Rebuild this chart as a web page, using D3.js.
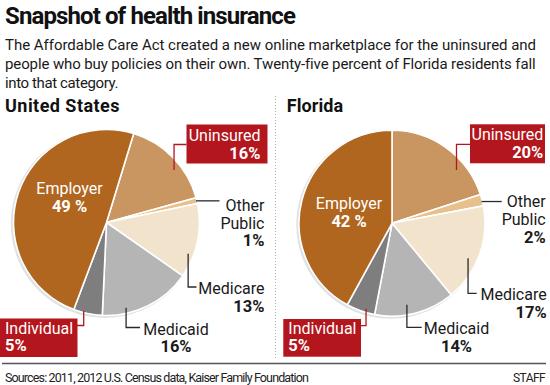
<!DOCTYPE html>
<html><head><meta charset="utf-8">
<script src="https://cdn.jsdelivr.net/npm/d3@7"></script>
<style>
body{margin:0;background:#fff}
svg{display:block}
text{font-family:Roboto,"Liberation Sans",sans-serif}
</style>
</head><body>
<svg id="c" width="550" height="385"></svg>
<script>
// ---- data ----
const categories = ["Uninsured", "Other Public", "Medicare", "Medicaid", "Individual", "Employer"];
const usValues = [16, 1, 13, 16, 5, 49];
const flValues = [20, 2, 17, 14, 5, 42];
const usPercentLabels = ["16%", "1%", "13%", "16%", "5%", "49 %"];
const flPercentLabels = ["20%", "2%", "17%", "14%", "5%", "42 %"];
const nameLines = [["Uninsured"], ["Other", "Public"], ["Medicare"], ["Medicaid"], ["Individual"], ["Employer"]];
const panelTitles = ["United States", "Florida"];
const titleText = "Snapshot of health insurance";
const subtitleLines = [
  "The Affordable Care Act created a new online marketplace for the uninsured and",
  "people who buy policies on their own. Twenty-five percent of Florida residents fall",
  "into that category."
];
const sourceText = "Sources: 2011, 2012 U.S. Census data, Kaiser Family Foundation";
const creditText = "STAFF";

// ---- styles ----
const colors = {
  "Uninsured": "#c99662",
  "Other Public": "#e8c08c",
  "Medicare": "#f2e4cc",
  "Medicaid": "#b5b5b5",
  "Individual": "#7e7e7e",
  "Employer": "#b0661f"
};
const RED = "#b3161c";

const svg = d3.select("#c");

// fit a text to a target width by adjusting letter spacing
function fitText(sel, w) {
  const nat = sel.node().getComputedTextLength();
  const n = sel.text().length;
  sel.attr("letter-spacing", ((w - nat) / n).toFixed(3));
  return sel;
}

// title & subtitle
fitText(svg.append("text").attr("x", 5).attr("y", 23.5).attr("font-size", 24)
  .attr("font-weight", 700).attr("fill", "#111").text(titleText), 290);
const subW = [531, 530, 113];
subtitleLines.forEach((t, i) => {
  fitText(svg.append("text").attr("x", 5).attr("y", 50 + i * 19).attr("font-size", 15)
    .attr("fill", "#1a1a1a").text(t), subW[i]);
});

// divider and footer
svg.append("line").attr("x1", 275.5).attr("x2", 275.5).attr("y1", 96).attr("y2", 360)
  .attr("stroke", "#b0b0b0").attr("stroke-width", 1).attr("stroke-dasharray", "1,2");
svg.append("line").attr("x1", 2).attr("x2", 546).attr("y1", 363.5).attr("y2", 363.5)
  .attr("stroke", "#555").attr("stroke-width", 1.5);
fitText(svg.append("text").attr("x", 5).attr("y", 381.5).attr("font-size", 12.5)
  .attr("fill", "#222").text(sourceText), 303);
fitText(svg.append("text").attr("x", 513).attr("y", 381.5).attr("font-size", 12)
  .attr("fill", "#222").text(creditText), 32);

// ---- layouts ----
const deg = Math.PI / 180;
const panels = [
  {
    title: panelTitles[0], titleX: 5, titleW: 115, values: usValues, pct: usPercentLabels,
    cx: 106.5, cy: 222.5, r: 93, start: 17 * deg,
    labels: [
      {t: .61, k: .92, kind: "elbow", ey: -78, ex: 80, box: [80, -98, 81, 39], anchor: "end", tx: 154, ys: [-82, -64], red: true},
      {t: .5, k: .99, kind: "flat", ex: 113, anchor: "end", tx: 158, ys: [-12, 6, 23.7]},
      {t: .70, k: .94, kind: "elbow", ey: 64.5, ex: 90, anchor: "end", tx: 158, ys: [71, 89.5]},
      {t: .73, k: .94, kind: "elbow", ey: 105, ex: 33.5, anchor: "middle", tx: 69.5, ys: [112, 129.5]},
      {t: .66, k: .98, kind: "elbow", ey: 103, ex: -29.5, box: [-106.5, 96, 77.5, 38.5], anchor: "start", tx: -101.5, ys: [111, 128.5], red: true},
      {kind: "inside", anchor: "middle", tx: -37, ys: [-28.5, -10.5]}
    ]
  },
  {
    title: panelTitles[1], titleX: 286.7, titleW: 56.5, values: flValues, pct: flPercentLabels,
    cx: 392, cy: 223.3, r: 93, start: 0,
    labels: [
      {t: .70, k: .90, kind: "elbow", ey: -79, ex: 78, box: [78, -99, 75, 39], anchor: "end", tx: 151.3, ys: [-83.3, -65.3], red: true},
      {t: .6, k: .99, kind: "flat", ex: 109.7, anchor: "end", tx: 153.7, ys: [-16, 1.7, 20]},
      {t: .58, k: .90, kind: "elbow", ey: 70, ex: 84.7, anchor: "end", tx: 154.7, ys: [76.7, 94.4]},
      {t: .58, k: .89, kind: "elbow", ey: 104, ex: 29.7, anchor: "middle", tx: 64.5, ys: [111, 128.4]},
      {t: .34, k: .96, kind: "elbow", ey: 102.4, ex: -31, box: [-108.7, 95.7, 77.7, 37.7], anchor: "start", tx: -103.7, ys: [110.7, 128.2], red: true},
      {kind: "inside", anchor: "middle", tx: -43, ys: [-14.5, 3.6]}
    ]
  }
];

panels.forEach(p => {
  fitText(svg.append("text").attr("x", p.titleX).attr("y", 111.7).attr("font-size", 18)
    .attr("font-weight", 700).attr("fill", "#111").text(p.title), p.titleW);

  const data = categories.map((c, i) => ({cat: c, value: p.values[i], pct: p.pct[i], lines: nameLines[i], lay: p.labels[i]}));
  const pie = d3.pie().sort(null).value(d => d.value).startAngle(p.start).endAngle(p.start + 2 * Math.PI);
  const arcs = pie(data);
  const arc = d3.arc().innerRadius(0).outerRadius(p.r);
  const g = svg.append("g").attr("transform", `translate(${p.cx},${p.cy})`);

  // subtle shadow
  g.append("circle").attr("cx", -1.5).attr("cy", 1.2).attr("r", p.r + 1.2).attr("fill", "#dfe1e4");

  g.selectAll("path.slice").data(arcs).join("path").attr("class", "slice")
    .attr("d", arc).attr("fill", d => colors[d.data.cat])
    .attr("stroke", "#fff").attr("stroke-width", 1.6).attr("stroke-linejoin", "round");

  arcs.forEach(a => {
    const L = a.data.lay;
    if (L.kind === "inside") {
      g.append("text").attr("x", L.tx).attr("y", L.ys[0]).attr("text-anchor", "middle")
        .attr("font-size", 16).attr("fill", "#fff").text(a.data.lines[0]);
      g.append("text").attr("x", L.tx).attr("y", L.ys[1]).attr("text-anchor", "middle")
        .attr("font-size", 16.5).attr("font-weight", 700).attr("fill", "#fff").text(a.data.pct);
      return;
    }
    const ang = a.startAngle + L.t * (a.endAngle - a.startAngle);
    const sx = L.k * p.r * Math.sin(ang), sy = -L.k * p.r * Math.cos(ang);
    const pts = L.kind === "elbow" ? [[sx, sy], [sx, L.ey], [L.ex, L.ey]] : [[sx, sy], [L.ex, sy]];
    if (L.box) {
      g.append("rect").attr("x", L.box[0]).attr("y", L.box[1]).attr("width", L.box[2]).attr("height", L.box[3]).attr("fill", RED);
    }
    g.append("path").attr("d", d3.line()(pts)).attr("fill", "none")
      .attr("stroke", L.red ? RED : "#2a2a2a").attr("stroke-width", 1.3);
    const fill = L.red ? "#fff" : "#1a1a1a";
    a.data.lines.forEach((ln, i) => {
      g.append("text").attr("x", L.tx).attr("y", L.ys[i]).attr("text-anchor", L.anchor)
        .attr("font-size", 16).attr("fill", fill).text(ln);
    });
    g.append("text").attr("x", L.tx).attr("y", L.ys[L.ys.length - 1]).attr("text-anchor", L.anchor)
      .attr("font-size", 16.5).attr("font-weight", 700).attr("fill", fill).text(a.data.pct);
  });
});
</script>
</body></html>
